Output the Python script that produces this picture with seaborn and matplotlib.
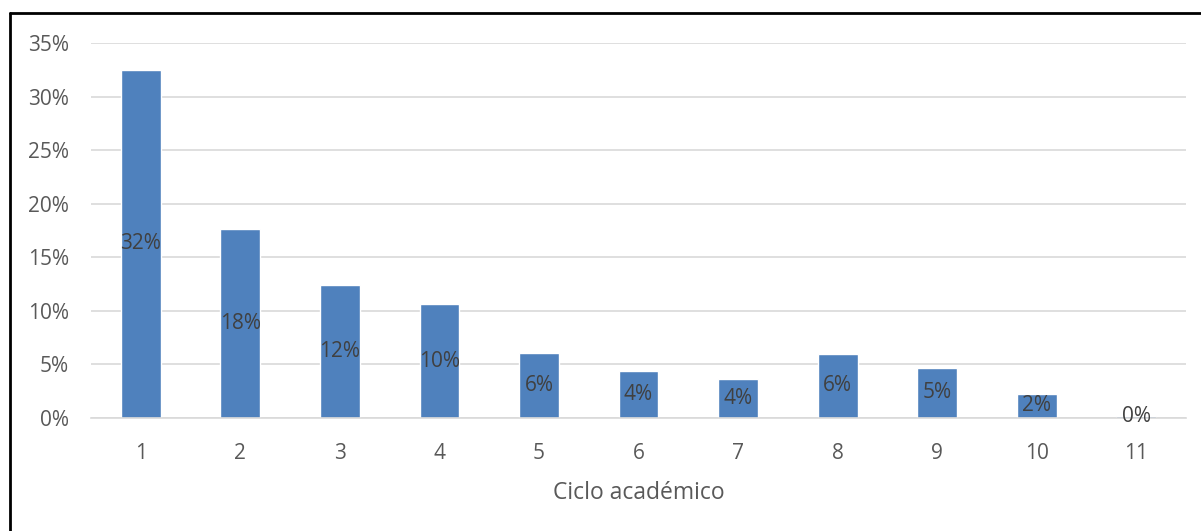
import matplotlib
matplotlib.use("Agg")
import matplotlib.pyplot as plt
from matplotlib.lines import Line2D
from matplotlib.ticker import FuncFormatter
import pandas as pd
import seaborn as sns

ciclos = ["1", "2", "3", "4", "5", "6", "7", "8", "9", "10", "11"]
porcentajes = [32.5, 17.6, 12.4, 10.6, 6.1, 4.35, 3.6, 6.0, 4.7, 2.25, 0.2]
etiquetas = ["32%", "18%", "12%", "10%", "6%", "4%", "4%", "6%", "5%", "2%", "0%"]

df = pd.DataFrame({"ciclo": ciclos, "pct": porcentajes})

sns.set_style("white")
plt.rcParams["font.family"] = ["Open Sans", "DejaVu Sans"]

W, H = 1201, 531
fig = plt.figure(figsize=(W / 100, H / 100), dpi=100)
ax = fig.add_axes([91 / W, 1 - 418 / H, (1186 - 91) / W, (418 - 43) / H])

sns.barplot(data=df, x="ciclo", y="pct", color="#4F81BD", saturation=1,
            width=0.4, ax=ax)

ax.set_ylim(0, 35)
ax.set_xlim(-0.5, len(ciclos) - 0.5)
ax.set_yticks(range(0, 36, 5))
ax.yaxis.set_major_formatter(FuncFormatter(lambda v, p: f"{int(v)}%"))
ax.grid(axis="y", color="#D9D9D9", linewidth=1.2)
ax.set_axisbelow(True)
for s in ["top", "right", "left"]:
    ax.spines[s].set_visible(False)
ax.spines["bottom"].set_color("#D9D9D9")
ax.spines["bottom"].set_linewidth(1.2)
ax.tick_params(axis="both", length=0, labelsize=15, labelcolor="#595959")
ax.tick_params(axis="x", pad=18)
ax.tick_params(axis="y", pad=16)
ax.set_ylabel("")
ax.set_xlabel("Ciclo académico", fontsize=16.5, color="#595959", labelpad=12)

for i, (v, t) in enumerate(zip(porcentajes, etiquetas)):
    ax.text(i, v / 2, t, ha="center", va="center",
            fontsize=15, color="#404040", clip_on=False)

# marco exterior
fig.add_artist(Line2D([10 / W, 10 / W], [0, 1 - 13 / H], color="black", lw=2))
fig.add_artist(Line2D([10 / W, 1], [1 - 13 / H, 1 - 13 / H], color="black", lw=2))

fig.savefig("out.png", dpi=100)
